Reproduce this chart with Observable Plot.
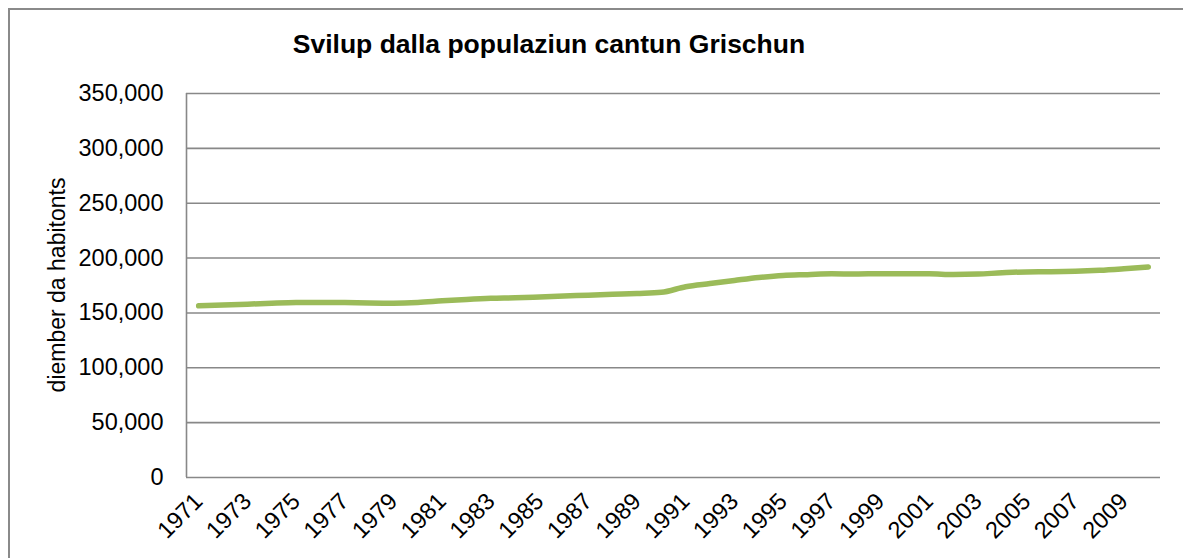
<!DOCTYPE html>
<html>
<head>
<meta charset="utf-8">
<script src="https://cdn.jsdelivr.net/npm/d3@7"></script>
<script src="https://cdn.jsdelivr.net/npm/@observablehq/plot@0.6"></script>
<style>
  html, body { margin: 0; padding: 0; background: #fff; overflow: hidden; }
  #wrap { position: relative; width: 1183px; height: 558px; overflow: hidden; font-family: "Liberation Sans", Arial, sans-serif; }
  #border { position: absolute; left: 8px; top: 8px; width: 1220px; height: 620px; border: 2px solid #8a8a8a; box-sizing: border-box; }
  #title { position: absolute; left: 0; width: 1098px; top: 29px; text-align: center; font-weight: bold; font-size: 26.5px; color: #000; white-space: nowrap; }
  #ytitle { position: absolute; left: 57px; top: 285px; transform: translate(-50%, -50%) rotate(-90deg); font-size: 23px; color: #000; white-space: nowrap; }
  #chart { position: absolute; left: 0; top: 0; }
</style>
</head>
<body>
<div id="wrap">
  <div id="border"></div>
  <div id="chart"></div>
  <div id="title">Svilup dalla populaziun cantun Grischun</div>
  <div id="ytitle">diember da habitonts</div>
</div>
<script>
const years = d3.range(1971, 2011);
const population = [
  156500, 157200, 158000, 158800, 159400, 159500, 159400, 159000, 158900, 159500,
  161000, 162300, 163300, 163800, 164600, 165400, 166200, 167000, 167800, 168800,
  173900, 176800, 179600, 182300, 184200, 184900, 185600, 185500, 185800, 185600,
  185600, 185000, 185400, 186600, 187400, 187500, 187900, 188800, 190200, 191800
];
const yTicks = [0, 50000, 100000, 150000, 200000, 250000, 300000, 350000];
const xTickYears = years.filter(y => y % 2 === 1);

const data = years.map((year, i) => ({year, value: population[i]}));

const gridColor = "#888888";
const lineColor = "#9BBB59";

const chart = Plot.plot({
  width: 1183,
  height: 558,
  marginTop: 93,
  marginBottom: 81,
  marginLeft: 186,
  marginRight: 23,
  style: { fontFamily: "Liberation Sans, Arial, sans-serif", fontSize: "23.5px", color: "#000", background: "transparent", overflow: "visible" },
  x: { type: "linear", domain: [1970.5, 2010.5] },
  y: { domain: [0, 350000] },
  marks: [
    Plot.ruleY(yTicks, { stroke: gridColor, strokeWidth: 1.6 }),
    Plot.ruleX([1970.5], { stroke: gridColor, strokeWidth: 1.6 }),
    Plot.axisY({ ticks: yTicks, tickSize: 0, tickPadding: 23, tickFormat: d3.format(","), label: null, fill: "#000" }),
    Plot.axisX({ ticks: xTickYears, tickSize: 0, tickRotate: -45, tickPadding: 20, fontSize: 23.5, tickFormat: d => String(d), label: null, fill: "#000" }),
    Plot.lineY(data, { x: "year", y: "value", stroke: lineColor, strokeWidth: 5.5, curve: "monotone-x", strokeLinecap: "round", strokeLinejoin: "round" })
  ]
});
document.getElementById("chart").appendChild(chart);
</script>
</body>
</html>
